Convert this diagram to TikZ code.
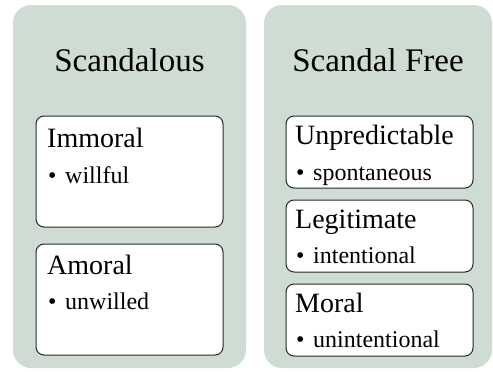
\documentclass[tikz,border=0pt]{standalone}
\usepackage{fontspec}
\setmainfont{Liberation Serif}
\definecolor{panelfill}{RGB}{207,220,212}
\definecolor{boxline}{RGB}{40,40,40}
\tikzset{
  panel/.style={fill=panelfill, draw=none, rounded corners=18pt},
  itembox/.style={fill=white, draw=boxline, line width=1pt, rounded corners=8pt},
  title/.style={anchor=base, font=\fontsize{33}{36}\selectfont, inner sep=0pt},
  heading/.style={anchor=base west, font=\fontsize{28}{30}\selectfont, inner sep=0pt},
  bullet/.style={anchor=base west, font=\fontsize{24}{26}\selectfont, inner sep=0pt}
}
\newcommand{\bulletitem}[1]{\makebox[17pt][l]{\textbullet}#1}
\begin{document}
\begin{tikzpicture}[x=1pt,y=-1pt]
  \useasboundingbox (0,0) rectangle (493,372);
  % two column panels
  \draw[panel] (13,5) rectangle (246,368);
  \draw[panel] (264,5) rectangle (492,368);
  \node[title] (tleft) at (129.5,71) {Scandalous};
  \node[title] (tright) at (378,71) {Scandal Free};
  % left column boxes
  \draw[itembox] (36,116) rectangle (223,227);
  \node[heading] (immoral) at (47,147) {Immoral};
  \node[bullet] (willful) at (48,183) {\bulletitem{willful}};
  \draw[itembox] (36,244) rectangle (223,355);
  \node[heading] (amoral) at (47,274) {Amoral};
  \node[bullet] (unwilled) at (48,309) {\bulletitem{unwilled}};
  % right column boxes
  \draw[itembox] (286,116) rectangle (473,188);
  \node[heading] (unpred) at (295,144) {Unpredictable};
  \node[bullet] (spont) at (296,180) {\bulletitem{spontaneous}};
  \draw[itembox] (286,200) rectangle (473,272);
  \node[heading] (legit) at (295,228) {Legitimate};
  \node[bullet] (intent) at (296,263) {\bulletitem{intentional}};
  \draw[itembox] (286,284) rectangle (473,356);
  \node[heading] (moral) at (295,312) {Moral};
  \node[bullet] (unintent) at (296,347) {\bulletitem{unintentional}};
\end{tikzpicture}
\end{document}
